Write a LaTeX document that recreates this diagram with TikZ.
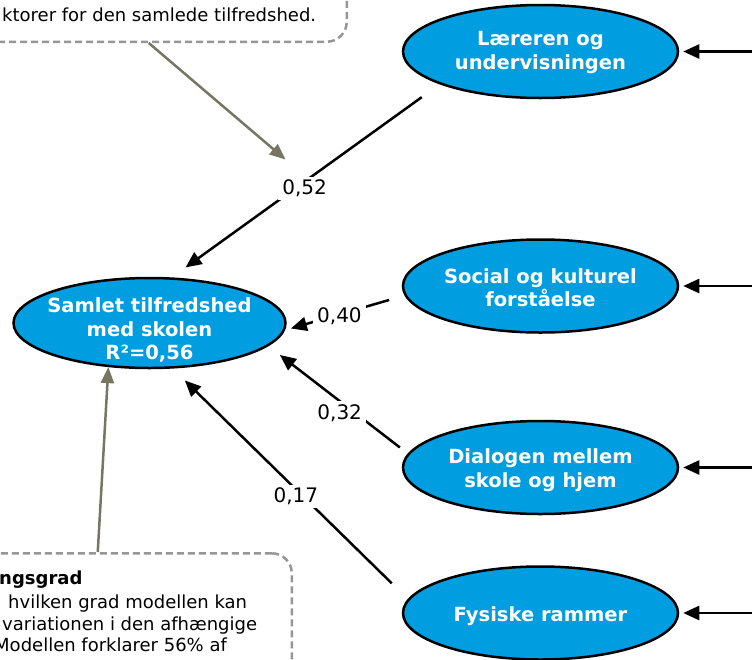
\documentclass[tikz,border=0pt]{standalone}
\usepackage{fontspec}
\setmainfont{DejaVu Sans}
\usepackage{xcolor}
\usetikzlibrary{shapes.geometric, positioning, calc, arrows.meta}

\definecolor{blobblue}{RGB}{0,158,224}
\definecolor{callgray}{RGB}{150,150,150}
\definecolor{pointgray}{RGB}{118,118,98}

\begin{document}
\begin{tikzpicture}[x=1pt, y=-1pt, >={Triangle[length=16pt,width=14pt]}, font=\fontsize{18}{22}\selectfont]

    % Styles for the path model
    \tikzset{
        blob/.style={ellipse, draw=black, fill=blobblue, line width=2.5pt,
            minimum width=275pt, minimum height=93pt, inner sep=0pt},
        blobtxt/.style={text=white, align=center, inner sep=0pt,
            font=\bfseries\fontsize{19.5}{23.5}\selectfont},
        effect/.style={->, line width=2.5pt},
        coef/.style={fill=white, inner xsep=4pt, inner ysep=3pt,
            font=\fontsize{20}{24}\selectfont},
        note/.style={draw=callgray, line width=2.5pt, dash pattern=on 7pt off 4pt,
            rounded corners=20pt},
        notetxt/.style={inner sep=0pt, anchor=base west},
        pointer/.style={-{Triangle[length=16pt,width=13pt]}, draw=pointgray, line width=2.5pt}
    }

    \path[use as bounding box, clip] (0,0) rectangle (752,659);

    % ==========================================
    % Callouts (cut by the frame)
    % ==========================================
    \node[note, anchor=south east, minimum width=396pt, minimum height=100pt] (fitnote) at (348,43) {};
    \node[notetxt] (fittxt) at (2,21) {ktorer for den samlede tilfredshed.};

    \node[note, anchor=north east, minimum width=388pt, minimum height=150pt] (ratenote) at (293,552) {};
    \node[notetxt, font=\bfseries\fontsize{18}{22}\selectfont] (ratehead) at (-1,584.5) {ngsgrad};
    \node[notetxt] (rate1) at (8,608) {hvilken grad modellen kan};
    \node[notetxt] (rate2) at (2,630) {variationen i den afhængige};
    \node[notetxt] (rate3) at (-6,651.5) {Modellen forklarer 56\% af};

    % ==========================================
    % Factors and outcome
    % ==========================================
    \node[blob] (lu) at (540.5,51.5) {};
    \node[blob] (sk) at (540.5,286) {};
    \node[blob] (dsh) at (540.5,467.5) {};
    \node[blob] (fr) at (540.5,613) {};
    \node[blob, minimum width=272pt, minimum height=90pt] (tot) at (149.5,323) {};

    \node[blobtxt] (lutxt) at ([yshift=-1pt]lu) {Læreren og\\undervisningen};
    \node[blobtxt] (sktxt) at ([yshift=-1.5pt]sk) {Social og kulturel\\forståelse};
    \node[blobtxt] (dshtxt) at ([yshift=-2.5pt]dsh) {Dialogen mellem\\skole og hjem};
    \node[blobtxt] (frtxt) at ([yshift=-3.5pt]fr) {Fysiske rammer};
    \node[blobtxt] (tottxt) at ([yshift=-7pt]tot) {Samlet tilfredshed\\med skolen\\R²=0,56};

    % Incoming arrows from the right
    \foreach \f/\y in {lu/51.5, sk/286, dsh/467.5, fr/613} {
        \coordinate (in-\f) at (770,\y);
        \draw[effect, shorten >=4pt] (in-\f) -- (\f.east);
    }

    % Effects with coefficients
    \draw[effect, shorten <=22pt, shorten >=17pt] (lu.198.8) -- (tot.64.7)
        node[coef, pos=0.504, yshift=-7pt] (w52) {0,52};
    \draw[effect, shorten <=16pt, shorten >=6pt] (sk.184.5) -- (tot.357.5)
        node[coef, pos=0.545, yshift=-2pt] (w40) {0,40};
    \draw[effect, shorten <=10pt, shorten >=14.5pt] (dsh.174.5) -- (tot.349.6)
        node[coef, pos=0.4885, yshift=-12pt] (w32) {0,32};
    \draw[effect, shorten <=22.5pt, shorten >=17pt] (fr.174.3) -- (tot.297.1)
        node[coef, pos=0.476, yshift=-7pt] (w17) {0,17};

    % Callout pointers
    \draw[pointer, shorten >=25pt] (fitnote.south) -- (w52.north);
    \draw[pointer] (ratenote.north) -- (tot.227.4);

\end{tikzpicture}
\end{document}
